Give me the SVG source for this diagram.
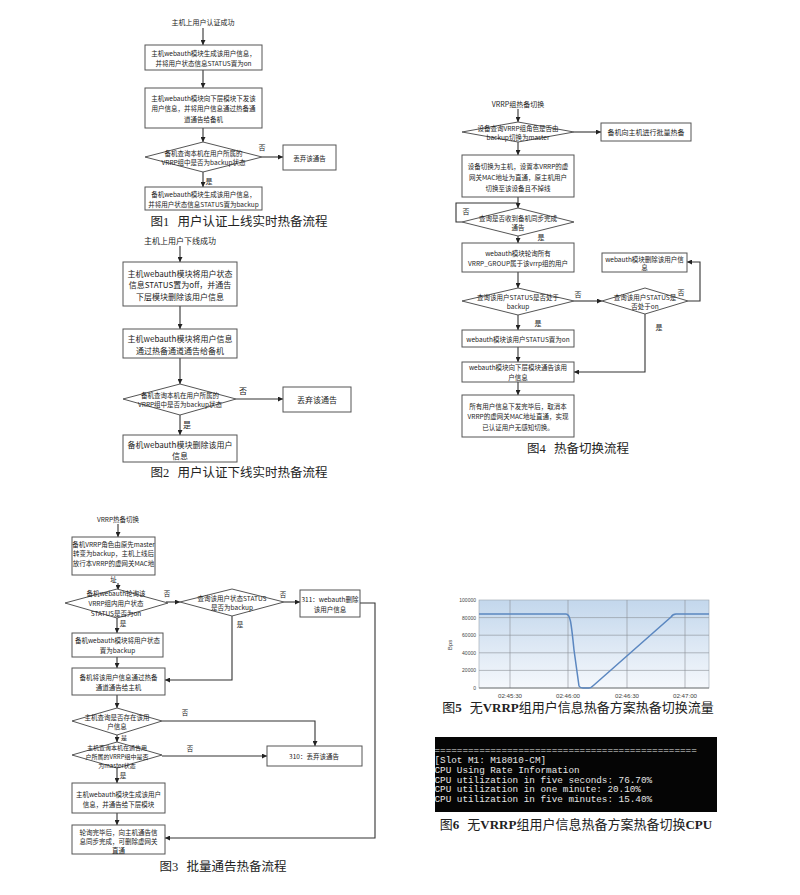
<svg xmlns="http://www.w3.org/2000/svg" width="800" height="895" viewBox="0 0 800 895">
<defs>
<style>
.t{font-family:"Noto Sans CJK SC","Liberation Sans",sans-serif;fill:#222;text-anchor:middle;dominant-baseline:central}
.s6{font-size:6px}.s65{font-size:6.5px}.s7{font-size:7px}.s8{font-size:8px}.s9{font-size:9px}
.box{fill:#fff;stroke:#555;stroke-width:1}
.ln{fill:none;stroke:#333;stroke-width:1.1;marker-end:url(#ah)}
.lp{fill:none;stroke:#333;stroke-width:1.1}
.cap{font-family:"Liberation Serif","Noto Sans CJK SC",serif;font-size:12.5px;fill:#222;text-anchor:middle;dominant-baseline:central}
.grid{stroke:#8a8f96;stroke-width:0.6}
.ax{font-family:"Liberation Sans",sans-serif;font-size:5px;fill:#444;text-anchor:end;dominant-baseline:central}
.axx{font-family:"Liberation Sans",sans-serif;font-size:6.2px;fill:#444;text-anchor:middle;dominant-baseline:central}
.mono{font-family:"Liberation Mono",monospace;font-size:9.3px;fill:#e6e6e6;dominant-baseline:central}
</style>
<marker id="ah" viewBox="0 0 10 10" refX="10" refY="5" markerWidth="5" markerHeight="5" orient="auto" markerUnits="userSpaceOnUse"><path d="M0,0 L10,5 L0,10 z" fill="#222"/></marker>
<linearGradient id="bg" x1="0" y1="0" x2="0" y2="1"><stop offset="0" stop-color="#c3d7ec"/><stop offset="1" stop-color="#f5f8fc"/></linearGradient>
<clipPath id="term"><rect x="435" y="737" width="282" height="75"/></clipPath>
</defs>
<rect width="800" height="895" fill="#fff"/>

<!-- ===== Figure 1 ===== -->
<g id="fig1-connectors">
<line class="ln" x1="203" y1="28" x2="203" y2="45"/>
<line class="ln" x1="203" y1="70" x2="203" y2="88"/>
<line class="ln" x1="203" y1="128" x2="203" y2="142"/>
<line class="ln" x1="262" y1="157" x2="283" y2="157"/>
<line class="ln" x1="203" y1="172" x2="203" y2="187"/>
<text class="t s7" x="262" y="147">否</text>
<text class="t s7" x="209" y="181">是</text>
</g>
<g id="f1-start"><text class="t s7" x="203" y="22">主机上用户认证成功</text></g>
<g id="f1-n1"><rect class="box" x="145" y="45" width="117" height="25"/>
<text class="t s65" x="203.5" y="53">主机webauth模块生成该用户信息，</text>
<text class="t s65" x="203.5" y="62.5">并将用户状态信息STATUS置为on</text></g>
<g id="f1-n2"><rect class="box" x="145" y="88" width="117" height="40"/>
<text class="t s65" x="203.5" y="97.5">主机webauth模块向下层模块下发该</text>
<text class="t s65" x="203.5" y="108">用户信息，并将用户信息通过热备通</text>
<text class="t s65" x="203.5" y="118.5">道通告给备机</text></g>
<g id="f1-d1"><polygon class="box" points="145,157 203,142 262,157 203,172"/>
<text class="t s65" x="203.5" y="152.5">备机查询本机在用户所属的</text>
<text class="t s65" x="203.5" y="162">VRRP组中是否为backup状态</text></g>
<g id="f1-n3"><rect class="box" x="283" y="145" width="53" height="25"/>
<text class="t s65" x="309.5" y="157.5">丢弃该通告</text></g>
<g id="f1-n4"><rect class="box" x="145" y="187" width="117" height="23"/>
<text class="t s65" x="203.5" y="194">备机webauth模块生成该用户信息，</text>
<text class="t s65" x="203.5" y="203.5">并将用户状态信息STATUS置为backup</text></g>
<text class="cap" x="239" y="222">图1<tspan dx="8">用户认证上线实时热备流程</tspan></text>

<!-- ===== Figure 2 ===== -->
<g id="fig2-connectors">
<line class="ln" x1="180" y1="246" x2="180" y2="262"/>
<line class="ln" x1="180" y1="306" x2="180" y2="329"/>
<line class="ln" x1="180" y1="358" x2="180" y2="384"/>
<line class="ln" x1="236" y1="399" x2="283" y2="399"/>
<line class="ln" x1="180" y1="415" x2="180" y2="435"/>
<text class="t s8" x="243" y="390">否</text>
<text class="t s8" x="187" y="424">是</text>
</g>
<g id="f2-start"><text class="t s8" x="180" y="240">主机上用户下线成功</text></g>
<g id="f2-n1"><rect class="box" x="123" y="262" width="114" height="44"/>
<text class="t s8" x="180" y="273">主机webauth模块将用户状态</text>
<text class="t s8" x="180" y="284.5">信息STATUS置为off，并通告</text>
<text class="t s8" x="180" y="296">下层模块删除该用户信息</text></g>
<g id="f2-n2"><rect class="box" x="123" y="329" width="114" height="29"/>
<text class="t s8" x="180" y="338">主机webauth模块将用户信息</text>
<text class="t s8" x="180" y="350">通过热备通道通告给备机</text></g>
<g id="f2-d1"><polygon class="box" points="123,399 180,384 236,399 180,415"/>
<text class="t s65" x="180" y="395">备机查询本机在用户所属的</text>
<text class="t s65" x="180" y="404">VRRP组中是否为backup状态</text></g>
<g id="f2-n3"><rect class="box" x="283" y="387" width="68" height="25"/>
<text class="t s8" x="317" y="399.5">丢弃该通告</text></g>
<g id="f2-n4"><rect class="box" x="123" y="435" width="114" height="27"/>
<text class="t s8" x="180" y="444">备机webauth模块删除该用户</text>
<text class="t s8" x="180" y="455">信息</text></g>
<text class="cap" x="239" y="473">图2<tspan dx="8">用户认证下线实时热备流程</tspan></text>

<!-- ===== Figure 4 ===== -->
<g id="fig4-connectors">
<line class="ln" x1="518" y1="109" x2="518" y2="122"/>
<line class="ln" x1="574" y1="132" x2="601" y2="132"/>
<line class="ln" x1="518" y1="142" x2="518" y2="155"/>
<line class="ln" x1="518" y1="197" x2="518" y2="208"/>
<polyline class="lp" points="462,222 456,222 456,203 518,203"/>
<line class="ln" x1="518" y1="236" x2="518" y2="243"/>
<line class="ln" x1="518" y1="272" x2="518" y2="288"/>
<line class="ln" x1="574" y1="301" x2="602" y2="301"/>
<polyline class="ln" points="688,301 700,301 700,262 687,262"/>
<polyline class="ln" points="645,314 645,372 574,372"/>
<line class="ln" x1="518" y1="315" x2="518" y2="330"/>
<line class="ln" x1="518" y1="347" x2="518" y2="362"/>
<line class="ln" x1="518" y1="382" x2="518" y2="395"/>
<text class="t s7" x="466" y="211">否</text>
<text class="t s7" x="541" y="237">是</text>
<text class="t s7" x="578" y="294">否</text>
<text class="t s7" x="681" y="292">否</text>
<text class="t s7" x="659" y="327">是</text>
<text class="t s7" x="538" y="323">是</text>
</g>
<g id="f4-start"><text class="t s7" x="518" y="104">VRRP组热备切换</text></g>
<g id="f4-d1"><polygon class="box" points="462,132 518,122 574,132 518,142"/>
<text class="t s65" x="518" y="128">设备查询VRRP组角色是否由</text>
<text class="t s65" x="518" y="137">backup切换为master</text></g>
<g id="f4-n1"><rect class="box" x="601" y="123" width="90" height="18"/>
<text class="t s7" x="646" y="132">备机向主机进行批量热备</text></g>
<g id="f4-n2"><rect class="box" x="462" y="155" width="112" height="42"/>
<text class="t s65" x="518" y="166">设备切换为主机，设置本VRRP的虚</text>
<text class="t s65" x="518" y="177">网关MAC地址为直通，原主机用户</text>
<text class="t s65" x="518" y="188">切换至该设备且不掉线</text></g>
<g id="f4-d2"><polygon class="box" points="462,222 518,208 574,222 518,236"/>
<text class="t s65" x="518" y="218">查询是否收到备机同步完成</text>
<text class="t s65" x="518" y="227">通告</text></g>
<g id="f4-n3"><rect class="box" x="462" y="243" width="112" height="29"/>
<text class="t s65" x="518" y="252.5">webauth模块轮询所有</text>
<text class="t s65" x="518" y="263">VRRP_GROUP属于该vrrp组的用户</text></g>
<g id="f4-d3"><polygon class="box" points="462,301 518,288 574,301 518,315"/>
<text class="t s65" x="518" y="297">查询该用户STATUS是否处于</text>
<text class="t s65" x="518" y="306">backup</text></g>
<g id="f4-d4"><polygon class="box" points="602,301 645,288 688,301 645,314"/>
<text class="t s65" x="645" y="297">查询该用户STATUS是</text>
<text class="t s65" x="645" y="306">否处于on</text></g>
<g id="f4-n4"><rect class="box" x="602" y="253" width="85" height="19"/>
<text class="t s65" x="644.5" y="258.5">webauth模块删除该用户信</text>
<text class="t s65" x="644.5" y="267">息</text></g>
<g id="f4-n5"><rect class="box" x="462" y="330" width="112" height="17"/>
<text class="t s65" x="518" y="338.5">webauth模块该用户STATUS置为on</text></g>
<g id="f4-n6"><rect class="box" x="462" y="362" width="112" height="20"/>
<text class="t s65" x="518" y="367">webauth模块向下层模块通告该用</text>
<text class="t s65" x="518" y="376.5">户信息</text></g>
<g id="f4-n7"><rect class="box" x="462" y="395" width="112" height="42"/>
<text class="t s65" x="518" y="405.5">所有用户信息下发完毕后，取消本</text>
<text class="t s65" x="518" y="416">VRRP的虚网关MAC地址直通，实现</text>
<text class="t s65" x="518" y="426.5">已认证用户无感知切换。</text></g>
<text class="cap" x="578" y="449">图4<tspan dx="8">热备切换流程</tspan></text>

<!-- ===== Figure 3 ===== -->
<g id="fig3-connectors">
<line class="ln" x1="118" y1="524" x2="118" y2="537"/>
<line class="ln" x1="118" y1="583" x2="118" y2="590"/>
<line class="ln" x1="166" y1="602" x2="180" y2="602"/>
<line class="ln" x1="284" y1="602" x2="300" y2="602"/>
<polyline class="ln" points="360,603 375,603 375,838 165,838"/>
<polyline class="ln" points="232,616 232,680 165,680"/>
<line class="ln" x1="117" y1="618" x2="117" y2="633"/>
<line class="ln" x1="117" y1="657" x2="117" y2="668"/>
<line class="ln" x1="117" y1="695" x2="117" y2="708"/>
<polyline class="ln" points="162,721 315,721 315,746"/>
<line class="ln" x1="117" y1="735" x2="117" y2="742"/>
<line class="ln" x1="162" y1="756" x2="267" y2="756"/>
<line class="ln" x1="117" y1="768" x2="117" y2="783"/>
<line class="ln" x1="117" y1="813" x2="117" y2="825"/>
<text class="t s65" x="167" y="593">否</text>
<text class="t s65" x="283" y="594">否</text>
<text class="t s65" x="240" y="624">是</text>
<text class="t s65" x="123" y="623">是</text>
<text class="t s65" x="185" y="712">否</text>
<text class="t s6" x="124" y="737.5">是</text>
<text class="t s65" x="190" y="748">否</text>
<text class="t s65" x="123" y="775">是</text>
</g>
<g id="f3-start"><text class="t s65" x="118" y="519">VRRP热备切换</text></g>
<g id="f3-n1"><rect class="box" x="72" y="537" width="83" height="38"/>
<text class="t s65" x="113.5" y="543.5">备机VRRP角色由原先master</text>
<text class="t s65" x="113.5" y="553">转变为backup，主机上线后</text>
<text class="t s65" x="113.5" y="563">放行本VRRP的虚网关MAC地</text>
<text class="t s65" x="113.5" y="579">址</text></g>
<g id="f3-d1"><polygon class="box" points="65,603 117,589 168,603 117,618"/>
<text class="t s65" x="116" y="593">备机webauth轮询该</text>
<text class="t s65" x="116" y="603">VRRP组内用户状态</text>
<text class="t s65" x="116" y="612.5">STATUS是否为on</text></g>
<g id="f3-d2"><polygon class="box" points="180,602 232,589 284,602 232,616"/>
<text class="t s65" x="232" y="597.5">查询该用户状态STATUS</text>
<text class="t s65" x="232" y="607">是否为backup</text></g>
<g id="f3-n2"><rect class="box" x="300" y="590" width="60" height="27"/>
<text class="t s65" x="330" y="598.5">311：webauth删除</text>
<text class="t s65" x="330" y="609">该用户信息</text></g>
<g id="f3-n3"><rect class="box" x="72" y="633" width="91" height="24"/>
<text class="t s65" x="117.5" y="640">备机webauth模块将用户状态</text>
<text class="t s65" x="117.5" y="650">置为backup</text></g>
<g id="f3-n4"><rect class="box" x="72" y="668" width="93" height="27"/>
<text class="t s65" x="118.5" y="677">备机将该用户信息通过热备</text>
<text class="t s65" x="118.5" y="687">通道通告给主机</text></g>
<g id="f3-d3"><polygon class="box" points="72,721 117,708 162,721 117,735"/>
<text class="t s65" x="117" y="716.5">主机查询是否存在该用</text>
<text class="t s65" x="117" y="725.5">户信息</text></g>
<g id="f3-d4"><polygon class="box" points="72,755 117,742 162,755 117,768"/>
<text class="t s6" x="117" y="747">主机查询本机在通告用</text>
<text class="t s6" x="117" y="756">户所属的VRRP组中是否</text>
<text class="t s6" x="117" y="765">为master状态</text></g>
<g id="f3-n5"><rect class="box" x="267" y="746" width="95" height="20"/>
<text class="t s65" x="314" y="756">310：丢弃该通告</text></g>
<g id="f3-n6"><rect class="box" x="72" y="783" width="93" height="30"/>
<text class="t s65" x="118.5" y="793.5">主机webauth模块生成该用户</text>
<text class="t s65" x="118.5" y="804">信息，并通告给下层模块</text></g>
<g id="f3-n7"><rect class="box" x="72" y="825" width="93" height="29"/>
<text class="t s65" x="118.5" y="831.5">轮询完毕后，向主机通告信</text>
<text class="t s65" x="118.5" y="840.5">息同步完成，可删除虚网关</text>
<text class="t s65" x="118.5" y="849.5">直通</text></g>
<text class="cap" x="223" y="867">图3<tspan dx="8">批量通告热备流程</tspan></text>

<!-- ===== Figure 5 chart ===== -->
<g id="fig5-chart">
<rect x="479" y="600" width="230" height="88" fill="url(#bg)" stroke="#9aa3ad" stroke-width="0.6"/>
<line class="grid" x1="479" y1="617.6" x2="709" y2="617.6"/>
<line class="grid" x1="479" y1="635.2" x2="709" y2="635.2"/>
<line class="grid" x1="479" y1="652.8" x2="709" y2="652.8"/>
<line class="grid" x1="479" y1="670.4" x2="709" y2="670.4"/>
<line class="grid" x1="510" y1="600" x2="510" y2="688"/>
<line class="grid" x1="568" y1="600" x2="568" y2="688"/>
<line class="grid" x1="627" y1="600" x2="627" y2="688"/>
<line class="grid" x1="685" y1="600" x2="685" y2="688"/>
<line x1="479" y1="688" x2="709" y2="688" stroke="#666" stroke-width="0.8"/>
<text class="ax" x="476" y="600">100000</text>
<text class="ax" x="476" y="617.6">80000</text>
<text class="ax" x="476" y="635.2">60000</text>
<text class="ax" x="476" y="652.8">40000</text>
<text class="ax" x="476" y="670.4">20000</text>
<text class="ax" x="476" y="688">0</text>
<text class="axx" x="510" y="695.5">02:45:30</text>
<text class="axx" x="568" y="695.5">02:46:00</text>
<text class="axx" x="627" y="695.5">02:46:30</text>
<text class="axx" x="685" y="695.5">02:47:00</text>
<text class="axx" x="449" y="645" transform="rotate(-90 449 645)">Bps</text>
<path d="M479,614 L566,614 C570,614 571,620 574,650 L579,686 C580,688 581,688 583,688 L589,688 C591,688 592,687 594,685 L671,617 C673,614 674,614 676,614 L709,614" fill="none" stroke="#5b87c0" stroke-width="1.5"/>
</g>
<text class="cap" x="578" y="707" style="font-size:13px">图<tspan font-weight="bold">5</tspan><tspan dx="8">无</tspan><tspan font-weight="bold">VRRP</tspan>组用户信息热备方案热备切换流量</text>

<!-- ===== Figure 6 terminal ===== -->
<g id="fig6-terminal">
<rect x="435" y="737" width="282" height="75" fill="#050505"/>
<g clip-path="url(#term)">
<text class="mono" x="434.5" y="750">===============================================</text>
<text class="mono" x="434.5" y="760">[Slot M1: M18010-CM]</text>
<text class="mono" x="434.5" y="770">CPU Using Rate Information</text>
<text class="mono" x="434.5" y="780">CPU utilization in five seconds: 76.70%</text>
<text class="mono" x="434.5" y="789.5">CPU utilization in one minute: 20.10%</text>
<text class="mono" x="434.5" y="799">CPU utilization in five minutes: 15.40%</text>
</g>
</g>
<text class="cap" x="576" y="824" style="font-size:13px">图<tspan font-weight="bold">6</tspan><tspan dx="8">无</tspan><tspan font-weight="bold">VRRP</tspan>组用户信息热备方案热备切换<tspan font-weight="bold">CPU</tspan></text>
</svg>
